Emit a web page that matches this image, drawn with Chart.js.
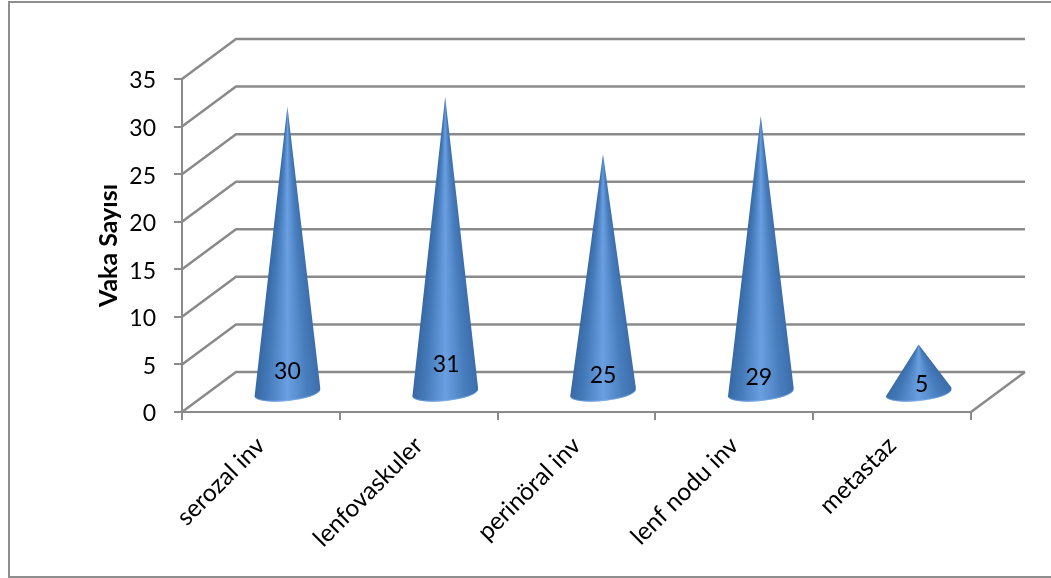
<!DOCTYPE html>
<html>
<head>
<meta charset="utf-8">
<style>
  html, body { margin: 0; padding: 0; background: #fff; overflow: hidden; }
  #wrap { position: relative; width: 1051px; height: 578px; overflow: hidden; }
  #frame { position: absolute; left: 8px; top: 1px; width: 1100px; height: 573px; border: 2px solid #8e8e8e; }
</style>
</head>
<body>
<div id="wrap">
  <div id="frame"></div>
  <canvas id="chart" width="1051" height="578" style="position:absolute;left:0;top:0"></canvas>
</div>
<script src="https://cdn.jsdelivr.net/npm/chart.js@4"></script>
<script>
const categories = ['serozal inv', 'lenfovaskuler', 'perinöral inv', 'lenf nodu inv', 'metastaz'];
const caseCounts = [30, 31, 25, 29, 5];
const axisTitle = 'Vaka Sayısı';

// Oblique projection of the chart's depth, and cone proportions
const DEPTH_X = 54, DEPTH_Y = -40;
const CONE_SHIFT_X = 26.5;
const CONE_RX = 33, CONE_RY = 8, CONE_TILT = -6 * Math.PI / 180;
// Hand-placed value labels: shift from the cone's base centre
const labelShifts = [[0, -19], [1, -26], [0, -15], [-2, -13], [3, -6]];

const GRID = '#8a8a8a';
const FONT = 'Lato, Carlito, Calibri, sans-serif';

const backWall = {
  id: 'backWall',
  beforeDatasetsDraw(chart) {
    const { ctx, chartArea: a, scales: { y } } = chart;
    ctx.save();
    ctx.strokeStyle = GRID;
    ctx.lineWidth = 2.5;
    y.ticks.forEach(t => {
      const py = y.getPixelForValue(t.value);
      ctx.beginPath();
      ctx.moveTo(a.left, py);
      ctx.lineTo(a.left + DEPTH_X, py + DEPTH_Y);
      ctx.lineTo(a.right + DEPTH_X, py + DEPTH_Y);
      ctx.stroke();
    });
    // Floor edge on the right-hand side
    ctx.beginPath();
    ctx.moveTo(a.right, a.bottom);
    ctx.lineTo(a.right + DEPTH_X, a.bottom + DEPTH_Y);
    ctx.stroke();
    ctx.restore();
  }
};

// Shade follows the cone's surface: a conic gradient swept around the apex
function coneShade(ctx, cx, tipY, baseY) {
  const half = Math.atan2(CONE_RX, baseY - tipY) * 1.08;
  const g = ctx.createConicGradient(Math.PI / 2 - half, cx, tipY);
  const span = 2 * half / (2 * Math.PI);
  g.addColorStop(0, '#3a6ba8');
  g.addColorStop(span * 0.22, '#487dbd');
  g.addColorStop(span * 0.5, '#6a9fe2');
  g.addColorStop(span * 0.78, '#447ab9');
  g.addColorStop(span, '#33639e');
  g.addColorStop(Math.min(span + 0.001, 1), '#3a6ba8');
  return g;
}

const cones = {
  id: 'cones',
  afterDatasetsDraw(chart) {
    const { ctx } = chart;
    const meta = chart.getDatasetMeta(0);
    meta.data.forEach((bar, i) => {
      const cx = bar.x + CONE_SHIFT_X;
      const baseY = bar.base + DEPTH_Y / 2;
      const tipY = bar.y + DEPTH_Y / 2;
      const dx = CONE_RX * Math.cos(CONE_TILT), dy = CONE_RX * Math.sin(CONE_TILT);

      ctx.save();
      ctx.fillStyle = coneShade(ctx, cx, tipY, baseY);
      ctx.beginPath();
      ctx.moveTo(cx, tipY);
      ctx.lineTo(cx + dx, baseY + dy);
      ctx.ellipse(cx, baseY + 2, CONE_RX, CONE_RY, CONE_TILT, 0, Math.PI);
      ctx.closePath();
      ctx.fill();

      // Pale rim along the front of the base
      ctx.strokeStyle = 'rgba(140,185,240,0.55)';
      ctx.lineWidth = 1;
      ctx.beginPath();
      ctx.ellipse(cx, baseY + 2, CONE_RX - 0.5, CONE_RY - 0.5, CONE_TILT, 0.15, Math.PI - 0.15);
      ctx.stroke();
      ctx.restore();

      const shift = labelShifts[i];
      ctx.save();
      ctx.fillStyle = '#000';
      ctx.font = '23px ' + FONT;
      ctx.textAlign = 'center';
      ctx.textBaseline = 'middle';
      ctx.fillText(String(caseCounts[i]), cx + shift[0], baseY + shift[1]);
      ctx.restore();
    });
  }
};

new Chart(document.getElementById('chart'), {
  type: 'bar',
  data: {
    labels: categories,
    datasets: [{ data: caseCounts, backgroundColor: 'rgba(0,0,0,0)', borderWidth: 0 }]
  },
  plugins: [backWall, cones],
  options: {
    responsive: false,
    animation: false,
    layout: { padding: { left: 0, top: 79, right: 80, bottom: 0 } },
    plugins: { legend: { display: false }, tooltip: { enabled: false }, title: { display: false } },
    scales: {
      x: {
        afterFit(s) { s.height = 166; },
        grid: { offset: true, drawOnChartArea: false, color: GRID, lineWidth: 2, tickLength: 8 },
        border: { color: GRID, width: 2 },
        ticks: { color: '#000', font: { family: FONT, size: 24.5 }, minRotation: 45, maxRotation: 45, padding: 11, autoSkip: false }
      },
      y: {
        min: 0, max: 35,
        afterFit(s) { s.width = 182; },
        grid: { drawOnChartArea: false, color: GRID, lineWidth: 2, tickLength: 8 },
        border: { color: GRID, width: 2 },
        ticks: { stepSize: 5, color: '#000', font: { family: FONT, size: 23 }, padding: 18, labelOffset: 2 },
        title: { display: true, text: axisTitle, color: '#000', padding: { top: 94, bottom: 0 }, font: { family: FONT, size: 25, weight: 'bold' } }
      }
    }
  }
});
</script>
</body>
</html>
